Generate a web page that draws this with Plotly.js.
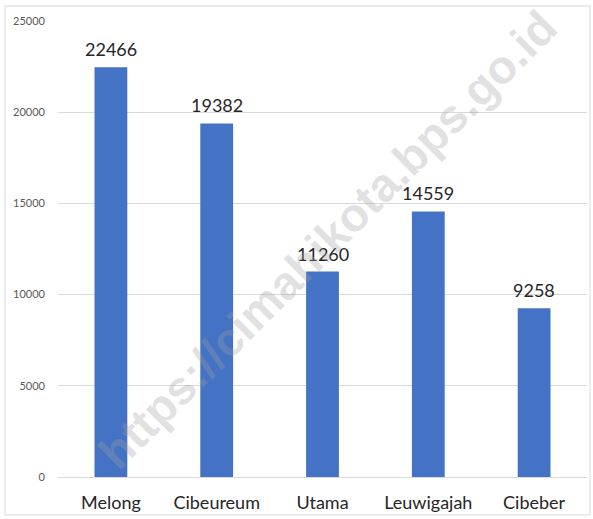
<!DOCTYPE html>
<html>
<head>
<meta charset="utf-8">
<script src="https://cdn.plot.ly/plotly-3.0.1.min.js"></script>
<style>
  html, body { margin: 0; padding: 0; background: #fff; }
  #chart { width: 593px; height: 519px; }
</style>
</head>
<body>
<div id="chart"></div>
<script>
const KECAMATAN = ['Melong', 'Cibeureum', 'Utama', 'Leuwigajah', 'Cibeber'];
const JUMLAH    = [22466, 19382, 11260, 14559, 9258];
const Y_TICKS   = [0, 5000, 10000, 15000, 20000, 25000];

const FONT = 'Lato, "Open Sans", "Liberation Sans", sans-serif';

const trace = {
  x: KECAMATAN,
  y: JUMLAH,
  type: 'bar',
  marker: { color: '#4472c4' },
  hoverinfo: 'x+y',
};

// value labels above each bar
const labels = KECAMATAN.map((k, i) => ({
  x: k, y: JUMLAH[i],
  xref: 'x', yref: 'y',
  text: String(JUMLAH[i]),
  showarrow: false,
  yanchor: 'bottom',
  yshift: 5,
  font: { family: FONT, size: 18, color: '#262626' },
}));

const watermark = {
  xref: 'paper', yref: 'paper',
  x: 0.51, y: 0.52,
  text: '<b>https://cimahikota.bps.go.id</b>',
  showarrow: false,
  textangle: -45,
  font: { family: '"Liberation Sans", Arial, sans-serif', size: 47, color: 'rgba(160,160,160,0.33)' },
};

Plotly.newPlot('chart', [trace], {
  width: 593, height: 519,
  margin: { l: 58, r: 6, t: 21, b: 42 },
  paper_bgcolor: '#fff',
  plot_bgcolor: '#fff',
  font: { family: FONT },
  bargap: 0.69,
  showlegend: false,
  xaxis: {
    showline: false,
    ticks: '',
    tickfont: { family: FONT, size: 18, color: '#262626' },
    ticklabelstandoff: 13,
    fixedrange: true,
  },
  yaxis: {
    range: [0, 25000],
    tickvals: Y_TICKS,
    ticktext: Y_TICKS.map(String),
    showgrid: true,
    gridcolor: '#d9d9d9',
    zeroline: true,
    zerolinecolor: '#d9d9d9',
    ticks: '',
    ticklabelstandoff: 12,
    tickfont: { family: FONT, size: 11, color: '#595959' },
    fixedrange: true,
  },
  annotations: [...labels, watermark],
  shapes: [{
    type: 'rect', xref: 'paper', yref: 'paper',
    x0: -0.1002, x1: 1.0057, y0: -0.0833, y1: 1.0329,
    line: { color: '#d9d9d9', width: 1 },
    layer: 'below',
  }],
}, { displayModeBar: false, staticPlot: true });
</script>
</body>
</html>
